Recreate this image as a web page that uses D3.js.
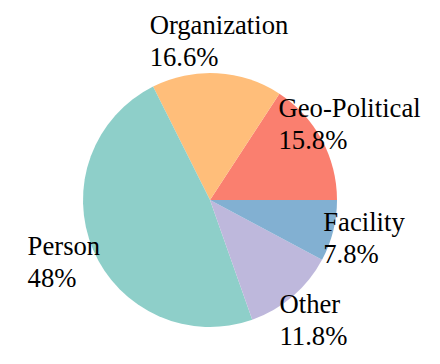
<!DOCTYPE html>
<html><head><meta charset="utf-8">
<script src="https://cdn.jsdelivr.net/npm/d3@7"></script>
<style>body{margin:0;background:#fff}svg{display:block}</style>
</head><body>
<svg id="c" width="440" height="364"></svg>
<script>
const categories = ["Geo-Political", "Organization", "Person", "Other", "Facility"];
const values = [15.8, 16.6, 48, 11.8, 7.8];
const percentLabels = ["15.8%", "16.6%", "48%", "11.8%", "7.8%"];
const colors = ["#FA7F6F", "#FFBE7A", "#8ECFC9", "#BEB8DC", "#82B0D2"];

const svg = d3.select("#c");
const cx = 210, cy = 200, r = 127, labelR = r * 1.25;
const data = categories.map((c, i) => ({cat: c, v: values[i], pct: percentLabels[i], col: colors[i]}));
const pie = d3.pie().value(d => d.v).sort(null).startAngle(Math.PI / 2).endAngle(Math.PI / 2 - 2 * Math.PI);
const arcs = pie(data);
const arc = d3.arc().innerRadius(0).outerRadius(r);
const g = svg.append("g").attr("transform", `translate(${cx},${cy})`);
g.selectAll("path").data(arcs).join("path").attr("d", arc).attr("fill", d => d.data.col);

const fs = 26.67, lh = 32;
arcs.forEach(a => {
  const mid = (a.startAngle + a.endAngle) / 2;
  const lx = cx + labelR * Math.sin(mid);
  const ly = cy - labelR * Math.cos(mid);
  const t = svg.append("text")
    .style("font-family", '"Liberation Serif"')
    .style("font-size", fs + "px")
    .attr("fill", "#000");
  const l1 = t.append("tspan").text(a.data.cat);
  const l2 = t.append("tspan").text(a.data.pct);
  const w = Math.max(l1.node().getComputedTextLength(), l2.node().getComputedTextLength());
  const x0 = lx - w / 2;
  l1.attr("x", x0).attr("y", ly - 7.5);
  l2.attr("x", x0).attr("y", ly - 7.5 + lh);
});
</script>
</body></html>
